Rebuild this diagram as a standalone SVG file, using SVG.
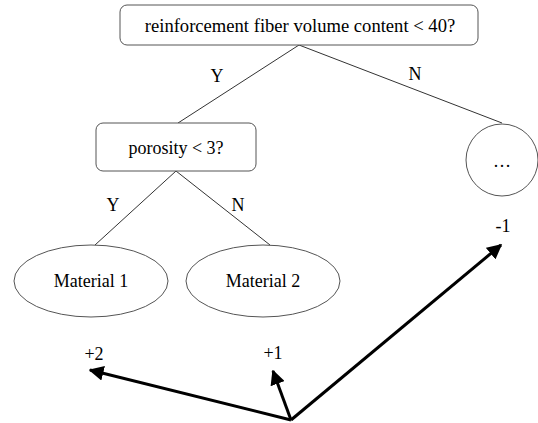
<svg xmlns="http://www.w3.org/2000/svg" width="538" height="423" viewBox="0 0 538 423">
<defs>
<style>
text{font-family:"Liberation Serif","Times New Roman",serif;font-size:18px;fill:#000;text-anchor:middle}
.node{fill:#fff;stroke:#555;stroke-width:1}
.edge{stroke:#333;stroke-width:1;fill:none}
.arrow{stroke:#000;stroke-width:3;fill:none;marker-end:url(#ah)}
</style>
<marker id="ah" viewBox="0 0 10 10" refX="9" refY="5" markerWidth="5" markerHeight="5" orient="auto" markerUnits="strokeWidth">
<path d="M0,0 L10,5 L0,10 z" fill="#000"/>
</marker>
</defs>
<rect width="538" height="423" fill="#fff"/>
<g id="connectors">
<line class="edge" x1="299" y1="45" x2="178" y2="123"/>
<line class="edge" x1="299" y1="45" x2="502" y2="123"/>
<line class="edge" x1="176" y1="171" x2="95" y2="245"/>
<line class="edge" x1="176" y1="171" x2="270" y2="245"/>
<text x="217" y="82">Y</text>
<text x="415" y="80">N</text>
<text x="113" y="211">Y</text>
<text x="238" y="211">N</text>
</g>
<g id="n-root">
<rect class="node" x="120" y="5" width="358" height="40" rx="7"/>
<text x="300" y="32" style="font-size:18.6px">reinforcement fiber volume content &lt; 40?</text>
</g>
<g id="n-porosity">
<rect class="node" x="96" y="123" width="160" height="48" rx="7"/>
<text x="176" y="154">porosity &lt; 3?</text>
</g>
<g id="n-more">
<circle class="node" cx="502" cy="160" r="36"/>
<text x="502" y="167">…</text>
</g>
<g id="n-m1">
<ellipse class="node" cx="91" cy="281" rx="77" ry="36"/>
<text x="91" y="287">Material 1</text>
</g>
<g id="n-m2">
<ellipse class="node" cx="263" cy="281" rx="77" ry="36"/>
<text x="263" y="287">Material 2</text>
</g>
<g id="scores">
<text x="503" y="232">-1</text>
<text x="94" y="360">+2</text>
<text x="273" y="359">+1</text>
<line class="arrow" x1="291" y1="420" x2="90" y2="370"/>
<line class="arrow" x1="291" y1="420" x2="273" y2="371"/>
<line class="arrow" x1="291" y1="420" x2="501" y2="245"/>
</g>
</svg>
